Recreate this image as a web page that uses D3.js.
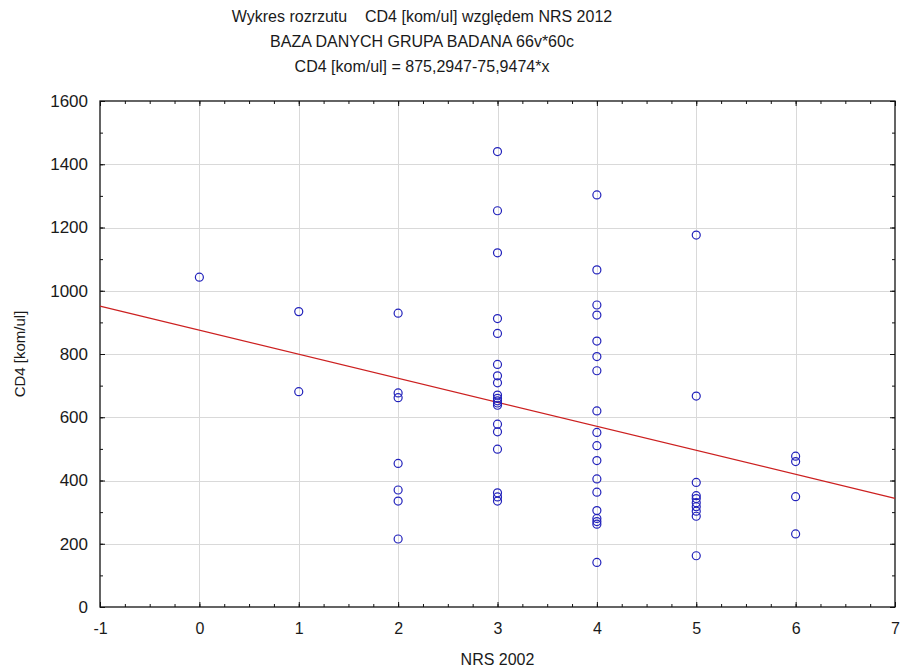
<!DOCTYPE html>
<html>
<head>
<meta charset="utf-8">
<script src="https://cdn.jsdelivr.net/npm/d3@7"></script>
<style>
  body { margin: 0; background: #fff; }
  text { font-family: "Liberation Sans", Arial, sans-serif; fill: #1a1a1a; }
</style>
</head>
<body>
<div id="chart"></div>
<script>
// NRS 2002 score for each patient group
let nrsScores = [0, 1, 2, 3, 4, 5, 6];

// CD4 values, one list per NRS score
let cd4ByScore = [
    [1043],
    [934, 681],
    [929, 677, 662, 454, 370, 335, 215],
    [1440, 1253, 1120, 912, 865, 767, 731, 709, 670, 660, 652, 645, 638, 578, 554, 499, 361, 348, 335],
    [1303, 1066, 955, 923, 841, 792, 747, 620, 552, 510, 463, 405, 363, 305, 280, 270, 262, 141],
    [1176, 667, 394, 352, 343, 330, 317, 303, 287, 162],
    [477, 460, 349, 231]
];

// regression from the title: CD4 = 875,2947 - 75,9474 * x
let intercept = 875.2947,
    slope = -75.9474;

let xTicks = [-1, 0, 1, 2, 3, 4, 5, 6, 7];
let yTicks = [0, 200, 400, 600, 800, 1000, 1200, 1400, 1600];

let titleLines = [
    'Wykres rozrzutu    CD4 [kom/ul] względem NRS 2012',
    'BAZA DANYCH GRUPA BADANA 66v*60c',
    'CD4 [kom/ul] = 875,2947-75,9474*x'
];

let w = 901,
    h = 670;

let margin = { top: 101, right: 6, bottom: 63, left: 100 };

let svg = d3.select('#chart').append('svg')
    .attr('width', w)
    .attr('height', h);

var x = d3.scaleLinear()
    .domain([-1, 7])
    .range([margin.left, w - margin.right]);

var y = d3.scaleLinear()
    .domain([0, 1600])
    .range([h - margin.bottom, margin.top]);

let points = [];
nrsScores.forEach(function(s, i) {
    cd4ByScore[i].forEach(function(v) {
        points.push({ x: s, y: v });
    });
});

// grid
let grid = svg.append('g').attr('stroke', '#d9d9d9').attr('stroke-width', 1);
grid.selectAll('.gx')
    .data(xTicks.slice(1, -1))
    .enter().append('line')
    .attr('x1', d => Math.round(x(d)) + 0.5)
    .attr('x2', d => Math.round(x(d)) + 0.5)
    .attr('y1', y(0))
    .attr('y2', y(1600));
grid.selectAll('.gy')
    .data(yTicks.slice(1, -1))
    .enter().append('line')
    .attr('y1', d => Math.round(y(d)) + 0.5)
    .attr('y2', d => Math.round(y(d)) + 0.5)
    .attr('x1', x(-1))
    .attr('x2', x(7));

// axes with inward ticks on all four sides
let xMinor = d3.range(-1, 7.001, 0.25);
let yMinor = d3.range(0, 1600.1, 100);
let plain = d => String(d);

function frameAxis(axisFn, scale, transform, major, minor, fmt, pad) {
    let g = svg.append('g').attr('transform', transform);
    g.call(axisFn(scale).tickValues(minor).tickSize(-3).tickFormat(''));
    g.select('.domain').remove();
    let g2 = svg.append('g').attr('transform', transform);
    g2.call(axisFn(scale).tickValues(major).tickSize(-5).tickPadding(pad || 0).tickFormat(fmt || ''));
    g2.select('.domain').remove();
    g.selectAll('line').attr('stroke', '#111');
    g2.selectAll('line').attr('stroke', '#111');
    return g2;
}

let xa = frameAxis(d3.axisBottom, x, `translate(0,${y(0)})`, xTicks, xMinor, plain, 16);
xa.selectAll('text').style('font-size', '16px').attr('fill', '#1a1a1a');
frameAxis(d3.axisTop, x, `translate(0,${y(1600)})`, xTicks, xMinor, null);

let ya = frameAxis(d3.axisLeft, y, `translate(${x(-1)},0)`, yTicks, yMinor, plain, 12);
ya.selectAll('text').style('font-size', '17px').attr('fill', '#1a1a1a');
frameAxis(d3.axisRight, y, `translate(${x(7)},0)`, yTicks, yMinor, null);

svg.append('rect')
    .attr('x', x(-1))
    .attr('y', y(1600))
    .attr('width', x(7) - x(-1))
    .attr('height', y(0) - y(1600))
    .attr('fill', 'none')
    .attr('stroke', '#111')
    .attr('stroke-width', 1.3);

// regression line
svg.append('line')
    .attr('x1', x(-1))
    .attr('y1', y(intercept + slope * -1))
    .attr('x2', x(7))
    .attr('y2', y(intercept + slope * 7))
    .attr('stroke', '#cc2020')
    .attr('stroke-width', 1.2);

// points
svg.append('g').selectAll('circle')
    .data(points)
    .enter().append('circle')
    .attr('cx', d => x(d.x))
    .attr('cy', d => y(d.y))
    .attr('r', 4)
    .attr('fill', 'none')
    .attr('stroke', '#2222bb')
    .attr('stroke-width', 1.2);

// titles
svg.append('g').selectAll('text')
    .data(titleLines)
    .enter().append('text')
    .attr('x', 422)
    .attr('y', (d, i) => 22 + i * 25)
    .attr('text-anchor', 'middle')
    .style('font-size', '16px')
    .style('white-space', 'pre')
    .text(d => d);

svg.append('text')
    .attr('x', x(3))
    .attr('y', 665)
    .attr('text-anchor', 'middle')
    .style('font-size', '16px')
    .text('NRS 2002');

svg.append('text')
    .attr('transform', `translate(25,${(y(0) + y(1600)) / 2}) rotate(-90)`)
    .attr('text-anchor', 'middle')
    .style('font-size', '15px')
    .text('CD4 [kom/ul]');
</script>
</body>
</html>
